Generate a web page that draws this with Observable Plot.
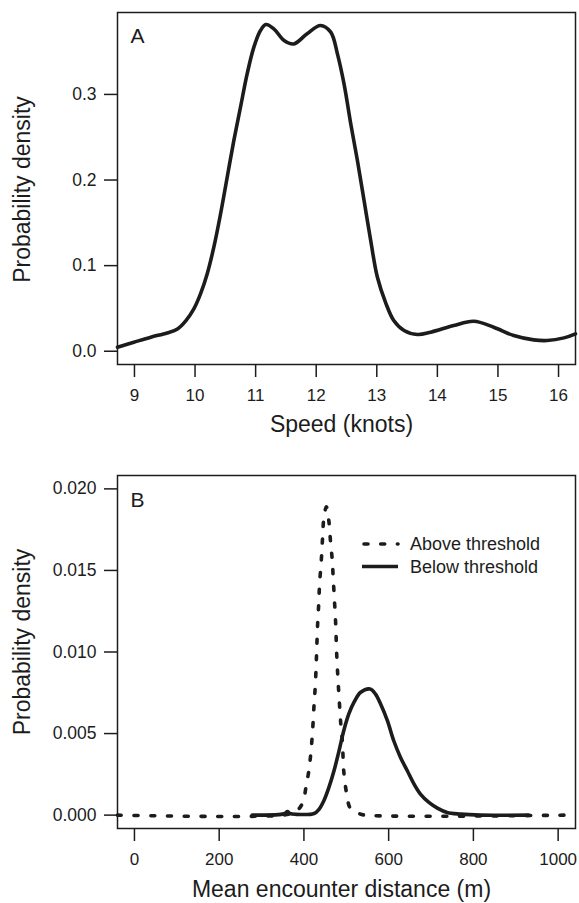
<!DOCTYPE html>
<html>
<head>
<meta charset="utf-8">
<script src="https://cdn.jsdelivr.net/npm/d3@7"></script>
<script src="https://cdn.jsdelivr.net/npm/@observablehq/plot@0.6"></script>
<style>
  html, body { margin: 0; padding: 0; background: #fff; }
  #chart { width: 579px; height: 903px; overflow: hidden; }
  #chart svg { display: block; }
</style>
</head>
<body>
<div id="chart"></div>
<script>
// ---- Panel A: speed density ----
const speed = [8.72, 8.99, 9.27, 9.54, 9.71, 9.85, 9.98, 10.09, 10.2, 10.31, 10.42, 10.53, 10.64, 10.75, 10.86, 10.97, 11.08, 11.17, 11.30, 11.47, 11.63, 11.85, 12.07, 12.24, 12.35, 12.46, 12.57, 12.68, 12.79, 12.90, 13.01, 13.15, 13.28, 13.45, 13.67, 13.89, 14.27, 14.60, 14.93, 15.26, 15.59, 15.81, 16.09, 16.28];
const speedDensity = [0.0047, 0.0105, 0.0164, 0.0214, 0.026, 0.0358, 0.0495, 0.067, 0.0903, 0.1215, 0.160, 0.203, 0.246, 0.285, 0.324, 0.355, 0.3746, 0.3816, 0.3766, 0.363, 0.359, 0.371, 0.3805, 0.3727, 0.3474, 0.312, 0.2657, 0.2228, 0.176, 0.129, 0.0864, 0.0560, 0.0359, 0.0242, 0.0195, 0.0222, 0.030, 0.035, 0.028, 0.0183, 0.0133, 0.0125, 0.0156, 0.0203];
const speedTicks = [9, 10, 11, 12, 13, 14, 15, 16];
const densityTicksA = [0, 0.1, 0.2, 0.3];

// ---- Panel B: mean encounter distance ----
const distAbove = [-40, 350, 380, 396, 406, 412, 417, 421, 424, 427, 430, 432, 435, 437, 441, 444, 447, 453, 459, 463, 467, 469, 472, 475, 477, 480, 483, 487, 491, 494, 501, 510, 530, 545, 1020];
const densAbove = [0, 0, 0.0002, 0.0007, 0.0019, 0.0028, 0.0040, 0.0054, 0.0068, 0.0080, 0.0100, 0.0115, 0.0130, 0.0142, 0.0156, 0.0170, 0.0182, 0.0189, 0.0180, 0.0167, 0.0156, 0.0146, 0.0132, 0.0117, 0.0101, 0.0085, 0.0072, 0.0056, 0.0044, 0.0027, 0.0013, 0.0004, 0.0001, 0, 0];
const distBelow = [278, 340, 355, 361, 367, 380, 424, 436, 447, 459, 471, 483, 494, 506, 518, 534, 556, 569, 581, 597, 612, 628, 644, 660, 675, 695, 715, 738, 770, 817, 930];
const densBelow = [0, 0.00003, 0.0001, 0.00022, 0.0001, 0.00005, 0.0001, 0.00037, 0.00088, 0.0017, 0.00272, 0.00395, 0.00517, 0.0062, 0.00691, 0.00753, 0.00773, 0.00742, 0.00681, 0.00579, 0.00456, 0.00354, 0.00272, 0.0019, 0.00129, 0.00078, 0.00043, 0.00016, 0.00006, 0, 0];
const distTicks = [0, 200, 400, 600, 800, 1000];
const densityTicksB = [0, 0.005, 0.010, 0.015, 0.020];
const seriesNames = ["Above threshold", "Below threshold"];

const ink = "#1c1c1c";
const font = "'Liberation Sans', Arial, Helvetica, sans-serif";
const dash = "4,12.7";

const speedData = speed.map((s, i) => ({x: s, y: speedDensity[i]}));
const aboveData = distAbove.map((d, i) => ({x: d, y: densAbove[i]}));
const belowData = distBelow.map((d, i) => ({x: d, y: densBelow[i]}));

const plotA = Plot.plot({
  width: 579, height: 450,
  marginLeft: 117, marginRight: 4, marginTop: 12, marginBottom: 86,
  style: {fontFamily: font, fontSize: "17px", color: ink, background: "#fff", overflow: "visible"},
  x: {domain: [8.72, 16.28]},
  y: {domain: [-0.0155, 0.3957]},
  marks: [
    Plot.frame({stroke: ink, strokeWidth: 1.5}),
    Plot.axisX(speedTicks, {tickSize: 13, tickPadding: 11, fontSize: 17, label: null, stroke: ink, strokeWidth: 1.5, tickFormat: d => String(d)}),
    Plot.axisY(densityTicksA, {tickSize: 13, tickPadding: 8, fontSize: 17.5, label: null, stroke: ink, strokeWidth: 1.5, tickFormat: d3.format(".1f")}),
    Plot.line(speedData, {x: "x", y: "y", stroke: ink, strokeWidth: 3.6, curve: "catmull-rom"}),
    Plot.text(["A"], {frameAnchor: "top-left", dx: 13, dy: 16, textAnchor: "start", lineAnchor: "top", fontSize: 21, fill: ink}),
    Plot.text(["Speed (knots)"], {frameAnchor: "bottom", textAnchor: "middle", lineAnchor: "middle", dx: -5, dy: 60, fontSize: 23, fill: ink}),
    Plot.text(["Probability density"], {frameAnchor: "left", textAnchor: "middle", lineAnchor: "middle", dx: -95, dy: 1, rotate: -90, fontSize: 23, fill: ink})
  ]
});

const plotB = Plot.plot({
  width: 579, height: 453,
  marginLeft: 117, marginRight: 4, marginTop: 25, marginBottom: 75,
  style: {fontFamily: font, fontSize: "17px", color: ink, background: "#fff", overflow: "visible"},
  x: {domain: [-40, 1041]},
  y: {domain: [-0.00082, 0.02082]},
  marks: [
    Plot.frame({stroke: ink, strokeWidth: 1.5}),
    Plot.axisX(distTicks, {tickSize: 13, tickPadding: 11, fontSize: 17, label: null, stroke: ink, strokeWidth: 1.5, tickFormat: d => String(d)}),
    Plot.axisY(densityTicksB, {tickSize: 13, tickPadding: 8, fontSize: 17.5, label: null, stroke: ink, strokeWidth: 1.5, tickFormat: d3.format(".3f")}),
    Plot.line(belowData, {x: "x", y: "y", stroke: ink, strokeWidth: 3.6, curve: "catmull-rom"}),
    Plot.line(aboveData, {x: "x", y: "y", stroke: ink, strokeWidth: 3.6, strokeDasharray: dash, strokeLinecap: "round", curve: "catmull-rom"}),
    Plot.text(["B"], {frameAnchor: "top-left", dx: 13, dy: 17, textAnchor: "start", lineAnchor: "top", fontSize: 21, fill: ink}),
    Plot.text(["Mean encounter distance (m)"], {frameAnchor: "bottom", textAnchor: "middle", lineAnchor: "middle", dx: -5, dy: 61, fontSize: 23, fill: ink}),
    Plot.text(["Probability density"], {frameAnchor: "left", textAnchor: "middle", lineAnchor: "middle", dx: -95, dy: -10, rotate: -90, fontSize: 23, fill: ink})
  ]
});

// legend for panel B
const leg = d3.select(plotB).append("g")
  .attr("font-family", font).attr("font-size", 18).attr("fill", ink).attr("text-anchor", "start");
seriesNames.forEach((name, i) => {
  const y = 94 + i * 22.5;
  leg.append("line").attr("x1", i === 0 ? 364 : 362).attr("x2", 398).attr("y1", y).attr("y2", y)
    .attr("stroke", ink).attr("stroke-width", 3.6)
    .attr("stroke-linecap", i === 0 ? "round" : "butt")
    .attr("stroke-dasharray", i === 0 ? dash : null);
  leg.append("text").attr("x", 410).attr("y", y).attr("dy", "0.35em").text(name);
});

const chart = document.getElementById("chart");
chart.appendChild(plotA);
chart.appendChild(plotB);
</script>
</body>
</html>
